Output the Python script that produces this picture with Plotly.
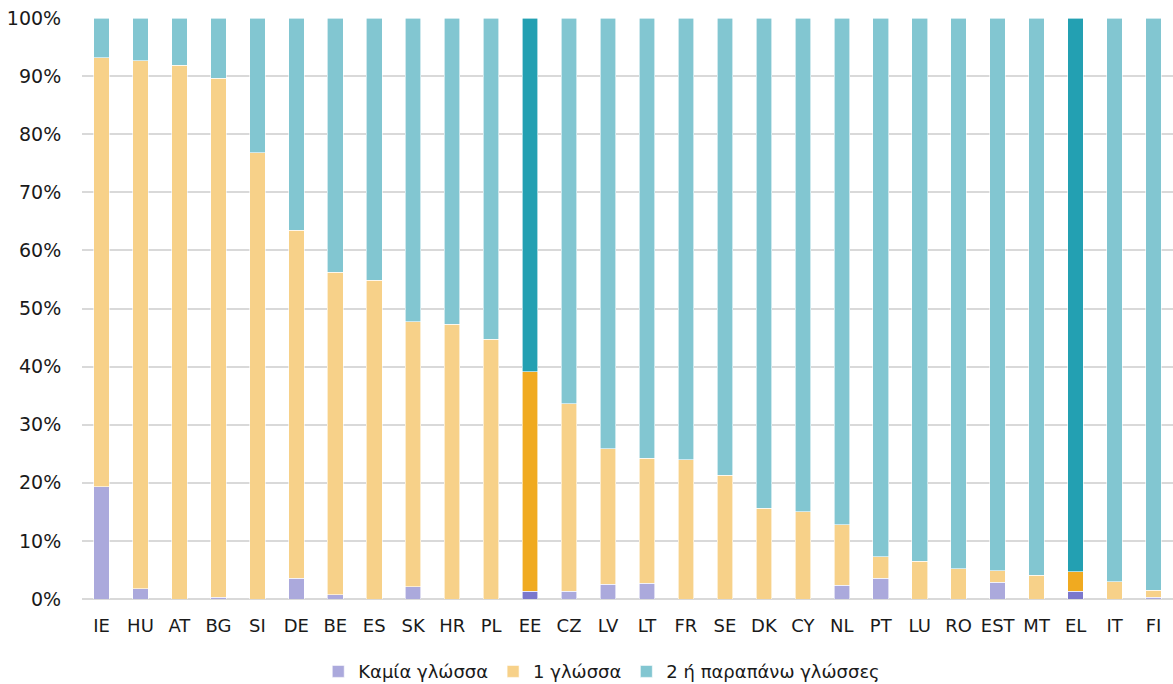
import plotly.graph_objects as go

countries = ["IE", "HU", "AT", "BG", "SI", "DE", "BE", "ES", "SK", "HR", "PL", "EE", "CZ", "LV",
             "LT", "FR", "SE", "DK", "CY", "NL", "PT", "LU", "RO", "EST", "MT", "EL", "IT", "FI"]

# values (in %): share with no language, cumulative top of "1 language"
none_pct = [19.3, 1.8, 0.0, 0.3, 0.0, 3.6, 0.7, 0.0, 2.1, 0.0, 0.0, 1.3, 1.3, 2.5,
            2.7, 0.0, 0.0, 0.0, 0.0, 2.4, 3.6, 0.0, 0.0, 2.9, 0.0, 1.3, 0.0, 0.3]
cum_one = [93.2, 92.6, 91.9, 89.6, 76.8, 63.5, 56.2, 54.9, 47.7, 47.3, 44.7, 39.1, 33.6, 25.9,
           24.2, 24.0, 21.3, 15.6, 15.0, 12.8, 7.3, 6.5, 5.2, 4.9, 4.1, 4.7, 3.0, 1.5]

one_pct = [round(c - n, 2) for c, n in zip(cum_one, none_pct)]
two_pct = [round(100 - c, 2) for c in cum_one]

series_names = ["Καμία γλώσσα", "1 γλώσσα", "2 ή παραπάνω γλώσσες"]
highlight = ["EE", "EL"]

base_colors = ["#ABA9DC", "#F7D189", "#82C6D1"]
hi_colors = ["#7B77CC", "#F0AA20", "#23A0B2"]

fig = go.Figure()
for name, vals, bc, hc in zip(series_names, [none_pct, one_pct, two_pct], base_colors, hi_colors):
    colors = [hc if c in highlight else bc for c in countries]
    fig.add_trace(go.Bar(
        x=countries, y=[v / 100 for v in vals], name=name,
        marker=dict(color=colors, line=dict(color="white", width=0.6)),
    ))

fig.update_layout(
    barmode="stack",
    bargap=0.6,
    width=1173, height=684,
    margin=dict(l=82, r=0, t=18, b=85, autoexpand=False),
    paper_bgcolor="white", plot_bgcolor="white",
    font=dict(family="DejaVu Sans, sans-serif", size=18, color="#1A1A1A"),
    showlegend=True,
    legend=dict(orientation="h", x=0.513, xanchor="center", xref="container",
                y=0.018, yanchor="middle", yref="container", bgcolor="rgba(0,0,0,0)",
                font=dict(size=18), traceorder="normal", itemwidth=30),
)
fig.update_yaxes(range=[0, 1.0], tickformat=".0%", dtick=0.1, showgrid=True,
                 gridcolor="#D9D9D9", gridwidth=1.5, zeroline=True, zerolinecolor="#D9D9D9",
                 zerolinewidth=1.5, ticks="outside", ticklen=16, tickcolor="rgba(0,0,0,0)",
                 ticklabeloverflow="allow", tickfont=dict(size=19))
fig.update_xaxes(showgrid=False, ticks="", showline=False, ticklabelstandoff=14,
                 tickfont=dict(size=18))

fig.write_html("out.html", config={"displayModeBar": False},
               post_script="document.body.style.margin='0';")
